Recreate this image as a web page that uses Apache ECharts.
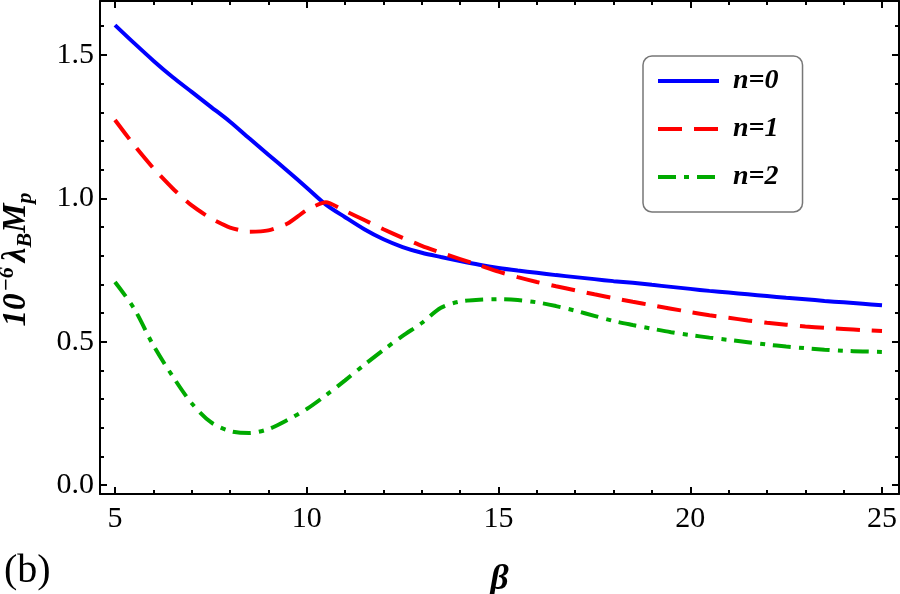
<!DOCTYPE html>
<html>
<head>
<meta charset="utf-8">
<script src="https://cdn.jsdelivr.net/npm/echarts@6/dist/echarts.min.js"></script>
<style>
  html, body { margin: 0; padding: 0; background: #fff; }
  #chart { width: 900px; height: 594px; }
</style>
</head>
<body>
<div id="chart"></div>
<script>
// beta values (x axis)
var betaList = [5, 5.5, 6, 6.5, 7, 7.5, 8, 8.5, 9, 9.5, 10, 10.5, 11, 11.5, 12, 12.5, 13, 13.5, 14, 14.5,
  15, 15.5, 16, 16.5, 17, 17.5, 18, 18.5, 19, 19.5, 20, 20.5, 21, 21.5, 22, 22.5, 23, 23.5, 24, 24.5, 25]

// n = 0
var n0List = [1.604, 1.541, 1.480, 1.423, 1.371, 1.319, 1.267, 1.209, 1.152, 1.095, 1.037, 0.978, 0.934, 0.892,
  0.857, 0.830, 0.810, 0.795, 0.781, 0.768, 0.757, 0.748, 0.740, 0.732, 0.725, 0.718, 0.711, 0.705, 0.698,
  0.691, 0.684, 0.677, 0.671, 0.665, 0.659, 0.653, 0.648, 0.642, 0.637, 0.632, 0.627]

// n = 1
var n1List = [1.273, 1.185, 1.105, 1.035, 0.975, 0.930, 0.898, 0.883, 0.888, 0.912, 0.959, 0.986, 0.956, 0.924,
  0.892, 0.862, 0.834, 0.810, 0.788, 0.766, 0.744, 0.725, 0.708, 0.693, 0.679, 0.665, 0.652, 0.639, 0.627,
  0.615, 0.603, 0.592, 0.583, 0.574, 0.566, 0.559, 0.553, 0.548, 0.544, 0.540, 0.537]

// n = 2
var n2List = [0.708, 0.615, 0.487, 0.380, 0.285, 0.219, 0.188, 0.181, 0.195, 0.227, 0.265, 0.313, 0.365, 0.419,
  0.471, 0.520, 0.565, 0.618, 0.640, 0.646, 0.648, 0.645, 0.637, 0.624, 0.608, 0.590, 0.572, 0.558, 0.545,
  0.533, 0.523, 0.514, 0.506, 0.498, 0.490, 0.483, 0.477, 0.472, 0.468, 0.466, 0.464]

var seriesNames = ['n=0', 'n=1', 'n=2']

function pairs(ys) {
  return betaList.map(function (b, i) { return [b, ys[i]] })
}

var serif = 'Liberation Serif'
var xMin = 4.609, xMax = 25.443
var yMin = -0.0314, yMax = 1.688

function frameAxis(pos, isX, main) {
  return {
    type: 'value',
    position: pos,
    min: isX ? xMin : yMin,
    max: isX ? xMax : yMax,
    splitNumber: 4,
    axisLine: { show: true, onZero: false, lineStyle: { color: '#000', width: 2 } },
    axisTick: { show: true, inside: true, length: 7, lineStyle: { color: '#000', width: 2 } },
    minorTick: { show: true, splitNumber: 5, length: 4, lineStyle: { color: '#000', width: 2 } },
    splitLine: { show: false },
    axisLabel: {
      show: main,
      showMinLabel: false,
      showMaxLabel: false,
      margin: isX ? 10 : 6,
      color: '#000',
      fontFamily: serif,
      fontSize: 30,
      formatter: function (v) { return isX ? String(v) : v.toFixed(1) }
    }
  }
}

var chart = echarts.init(document.getElementById('chart'))

var xMain = frameAxis('bottom', true, true)
xMain.name = 'β'
xMain.nameLocation = 'middle'
xMain.nameGap = 68
xMain.nameTextStyle = { fontFamily: serif, fontSize: 36, fontStyle: 'italic', fontWeight: 'bold', color: '#000' }

var yMain = frameAxis('left', false, true)
yMain.name = '{b|10}{sup|−6}{b|λ}{sub|B}{b|M}{sub|p}'
yMain.nameLocation = 'middle'
yMain.nameGap = 64
yMain.nameRotate = 90
yMain.nameTextStyle = {
  color: '#000',
  fontFamily: serif,
  fontStyle: 'italic',
  fontWeight: 'bold',
  fontSize: 33,
  lineHeight: 40,
  padding: [0, 24, 0, 0],
  rich: {
    b: { fontFamily: serif, fontStyle: 'italic', fontWeight: 'bold', fontSize: 33, color: '#000', lineHeight: 40 },
    sup: { fontFamily: serif, fontStyle: 'italic', fontWeight: 'bold', fontSize: 22, color: '#000', verticalAlign: 'top', padding: [0, 5, 0, 2] },
    sub: { fontFamily: serif, fontStyle: 'italic', fontWeight: 'bold', fontSize: 22, color: '#000', verticalAlign: 'bottom' }
  }
}

var option = {
  animation: false,
  backgroundColor: '#fff',
  grid: { left: 100, right: 1, top: 1, bottom: 100, containLabel: false, outerBoundsMode: 'none' },
  xAxis: [xMain, frameAxis('top', true, false)],
  yAxis: [yMain, frameAxis('right', false, false)],
  legend: {
    orient: 'vertical',
    left: 643,
    top: 56,
    padding: [11, 24, 21, 13],
    itemGap: 20,
    itemWidth: 61,
    itemHeight: 14,
    backgroundColor: '#fff',
    borderColor: '#777',
    borderWidth: 1.5,
    borderRadius: 9,
    data: seriesNames,
    itemStyle: { opacity: 0, color: 'transparent', borderWidth: 0 },
    lineStyle: { width: 4 },
    textStyle: {
      fontFamily: serif,
      fontStyle: 'italic',
      fontWeight: 'bold',
      fontSize: 28,
      lineHeight: 28,
      color: '#000',
      padding: [0, 0, 0, 9]
    }
  },
  graphic: [{
    type: 'text',
    left: 4,
    top: 551,
    style: { text: '(b)', font: '40px "Liberation Serif"', fill: '#000' }
  }],
  series: [
    {
      name: seriesNames[0],
      type: 'line',
      data: pairs(n0List),
      smooth: 0.3,
      symbol: 'none',
      lineStyle: { color: '#0000ff', width: 4, type: 'solid' },
      itemStyle: { color: '#0000ff' }
    },
    {
      name: seriesNames[1],
      type: 'line',
      data: pairs(n1List),
      smooth: 0.2,
      symbol: 'none',
      lineStyle: { color: '#ff0000', width: 4, type: [24, 12] },
      itemStyle: { color: '#ff0000' }
    },
    {
      name: seriesNames[2],
      type: 'line',
      data: pairs(n2List),
      smooth: 0.3,
      symbol: 'none',
      lineStyle: { color: '#00aa00', width: 4, type: [18, 8, 5, 8] },
      itemStyle: { color: '#00aa00' }
    }
  ]
}

chart.setOption(option)
</script>
</body>
</html>
